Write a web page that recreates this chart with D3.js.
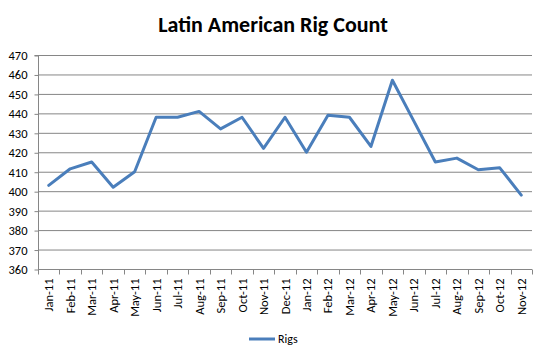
<!DOCTYPE html>
<html><head><meta charset="utf-8">
<script src="https://cdn.jsdelivr.net/npm/d3@7"></script>
<style>body{margin:0;background:#fff}svg{display:block}</style>
</head><body><svg id="c" width="546" height="357"></svg>
<script>
const categories = ["Jan-11","Feb-11","Mar-11","Apr-11","May-11","Jun-11","Jul-11","Aug-11","Sep-11","Oct-11","Nov-11","Dec-11","Jan-12","Feb-12","Mar-12","Apr-12","May-12","Jun-12","Jul-12","Aug-12","Sep-12","Oct-12","Nov-12"];
const rigs = [403,411.5,415,402,410,438,438,441,432,438,422,438,420,439,438,423,457,436,415,417,411,412,398];
const yTicks = [360,370,380,390,400,410,420,430,440,450,460,470];
const seriesName = "Rigs";
const title = "Latin American Rig Count";

const svg = d3.select("#c");
const L=38, R=532, T=55, B=269;
const x = d3.scaleBand().domain(categories).range([L,R]);
const y = d3.scaleLinear().domain([360,470]).range([B,T]);
const font = "Calibri, Carlito, Lato, sans-serif";

svg.append("text").attr("x",273).attr("y",32).attr("text-anchor","middle")
  .attr("font-family",font).attr("font-weight","bold").attr("font-size",22).attr("fill","#000").text(title);

// gridlines
svg.append("g").selectAll("line").data(yTicks.filter(d=>d>360)).join("line")
  .attr("x1",L).attr("x2",R).attr("y1",d=>y(d)+0.5).attr("y2",d=>y(d)+0.5)
  .attr("stroke","#868686").attr("stroke-width",1);

// y axis
const ya = svg.append("g").attr("transform",`translate(${L+0.5},0.5)`)
  .call(d3.axisLeft(y).tickValues(yTicks).tickSize(4).tickPadding(7));
ya.select(".domain").attr("stroke","#868686").attr("d",`M-4,${y(470)}H0V${y(360)}`);
ya.selectAll(".tick line").attr("stroke","#868686");
ya.selectAll("text").attr("font-family",font).attr("font-size",12.5).attr("fill","#000");

// x axis
const xa = svg.append("g").attr("transform",`translate(0,${B+0.5})`);
xa.append("line").attr("x1",L).attr("x2",R).attr("stroke","#868686");
const bounds = categories.map(c=>x(c)).concat([R]);
xa.selectAll("line.t").data(bounds).join("line").attr("class","t")
  .attr("x1",d=>Math.round(d)+0.5).attr("x2",d=>Math.round(d)+0.5).attr("y1",0).attr("y2",5).attr("stroke","#868686");
xa.selectAll("text").data(categories).join("text")
  .attr("transform",d=>`translate(${x(d)+x.bandwidth()/2+4.5},9) rotate(-90)`)
  .attr("text-anchor","end").attr("font-family",font).attr("font-size",12.5).attr("fill","#000").text(d=>d);

// line
const line = d3.line().x((d,i)=>x(categories[i])+x.bandwidth()/2).y(d=>y(d));
svg.append("path").datum(rigs).attr("d",line).attr("fill","none")
  .attr("stroke","#4A7EBB").attr("stroke-width",3).attr("stroke-linejoin","round").attr("stroke-linecap","round");

// legend
svg.append("line").attr("x1",249).attr("x2",275).attr("y1",339).attr("y2",339)
  .attr("stroke","#4A7EBB").attr("stroke-width",3);
svg.append("text").attr("x",278).attr("y",343).attr("font-family",font).attr("font-size",12).attr("fill","#000").text(seriesName);
</script></body></html>
